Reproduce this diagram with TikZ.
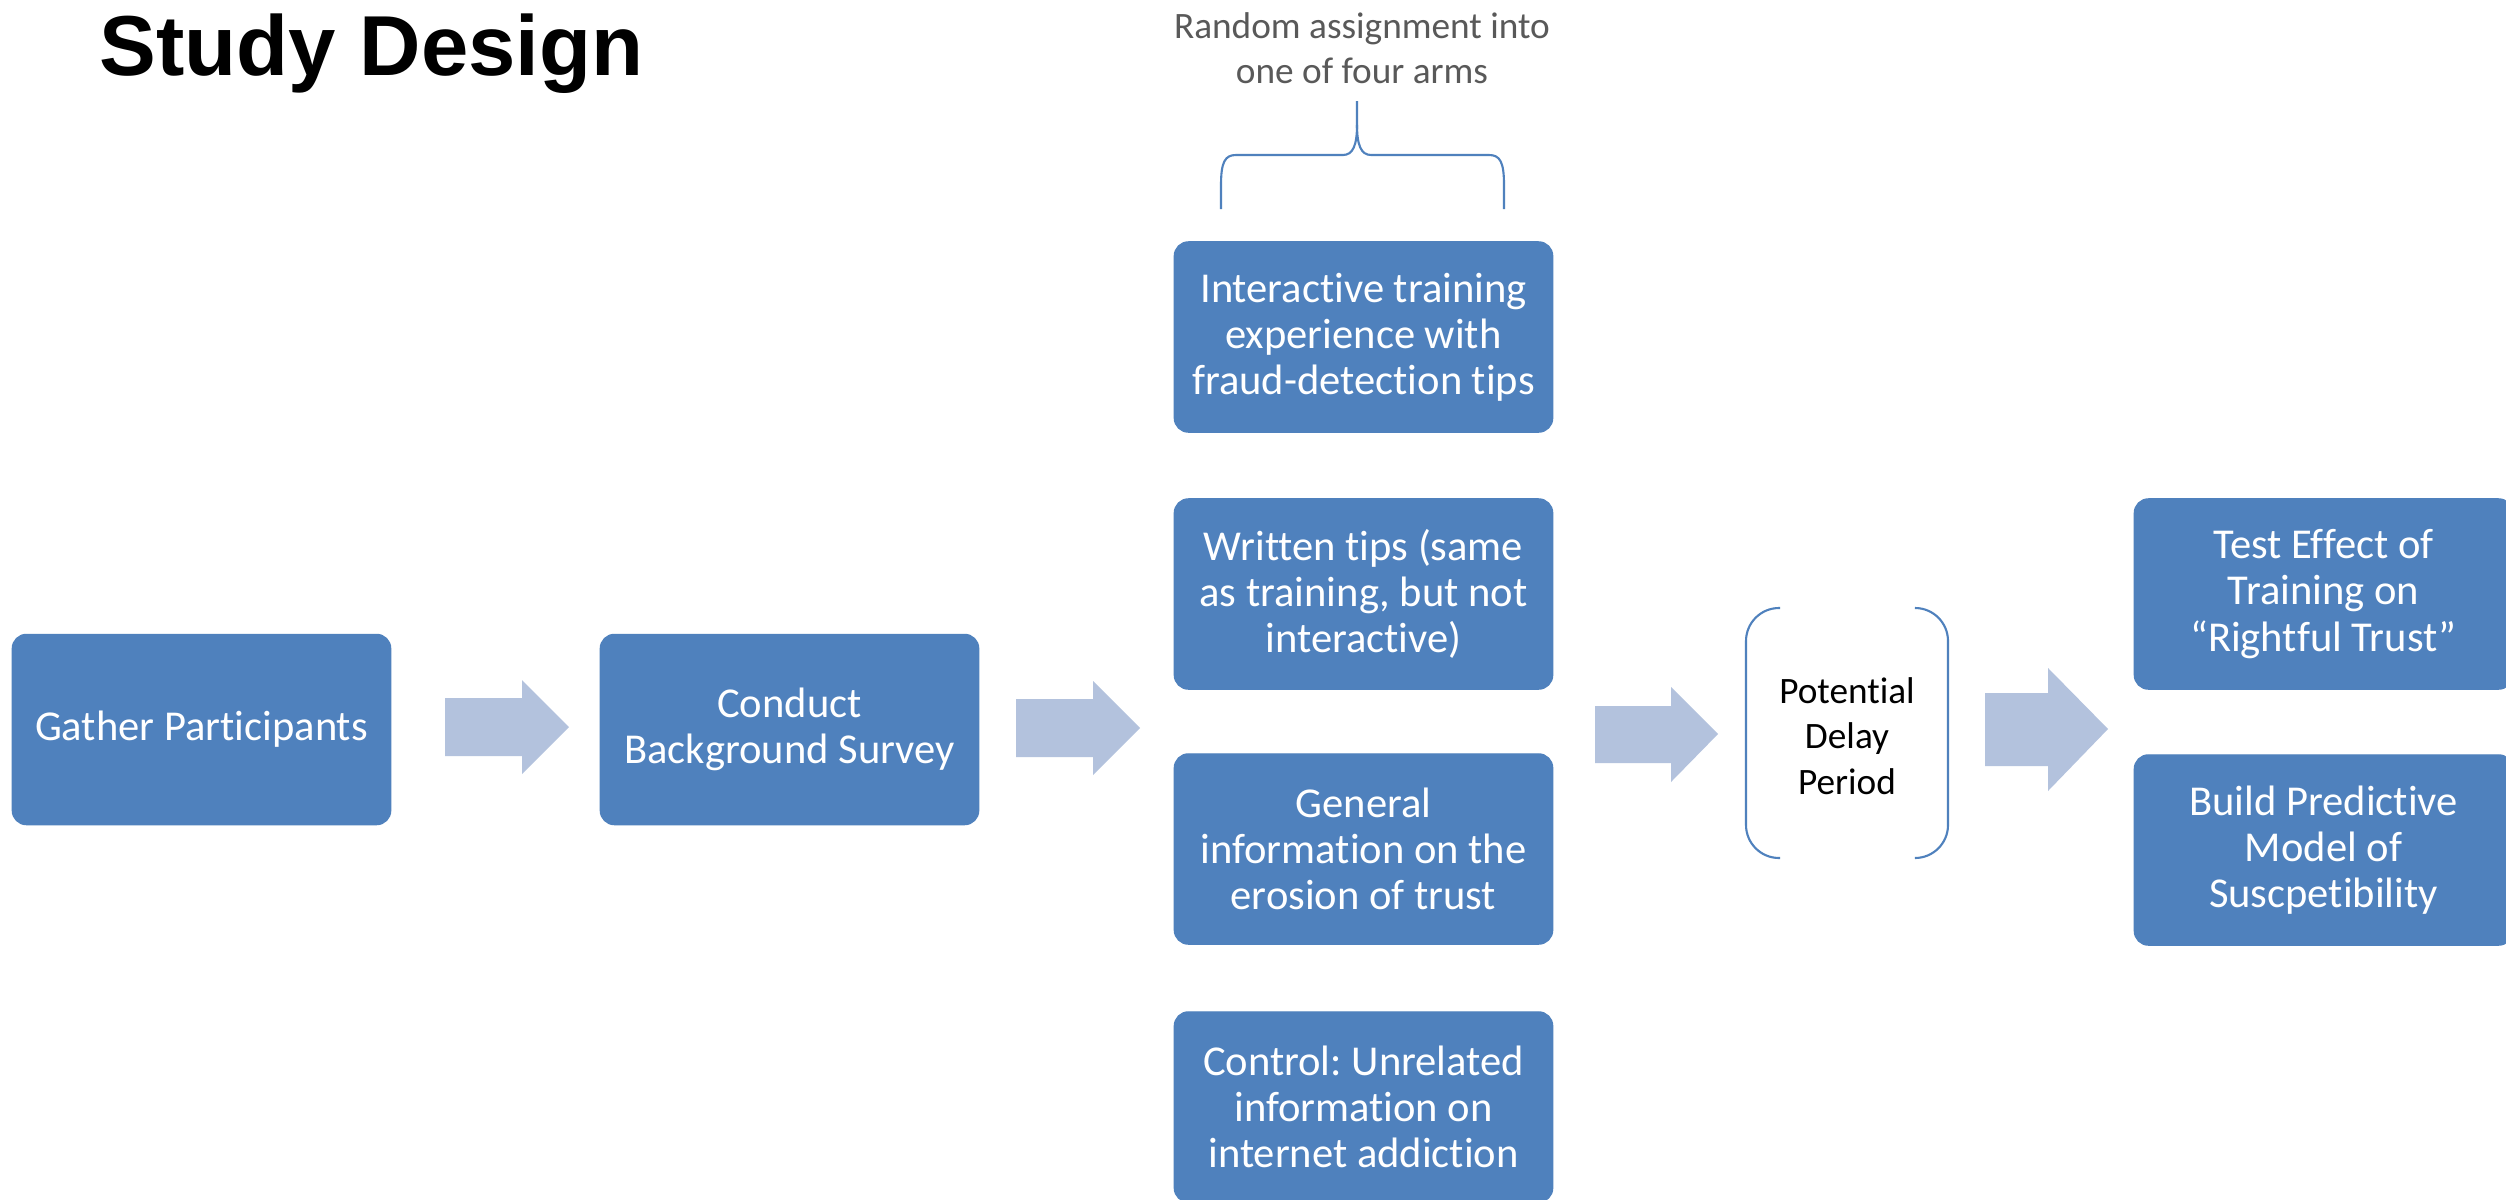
\documentclass[tikz,border=0pt]{standalone}
\usepackage{fontspec}
\setmainfont{Carlito}[Ligatures=NoCommon]
\newfontfamily\titlefont{Liberation Sans}
\frenchspacing
\definecolor{boxblue}{HTML}{4F81BD}
\definecolor{arrowblue}{HTML}{B3C2DD}
\definecolor{graytext}{HTML}{595959}
\tikzset{
  box/.style={draw=boxblue, fill=boxblue, rounded corners=0.14cm, minimum width=3.78cm,
    minimum height=1.9cm, text=white, align=center, inner sep=0pt,
    font=\fontsize{12.1}{13.1}\selectfont},
  blockarrow/.style={fill=arrowblue, draw=none},
  bracketline/.style={draw=boxblue, line width=0.6pt},
  note/.style={align=center, inner sep=0pt}
}
\begin{document}
\begin{tikzpicture}[x=0.01cm, y=-0.01cm]
\useasboundingbox (0,0) rectangle (2506,1200);
\fill[white] (0,0) rectangle (2506,1200);

% title
\node[anchor=base west, inner sep=0pt, font=\titlefont\bfseries\fontsize{24.2}{28}\selectfont] (title) at (99,75) {Study Design};

% main boxes
\node[box] (gather) at (201.5,729.5) {\raisebox{-1pt}{Gather Participants}};
\node[box] (conduct) at (789.5,729.5) {\raisebox{-1pt}{Conduct}\\\raisebox{-1pt}{Background Survey}};

\node[box] (arm1) at (1363.5,337) {Interactive training\\experience with\\fraud-detection tips};
\node[box] (arm2) at (1363.5,594) {Written tips (same\\as training, but not\\interactive)};
\node[box] (arm3) at (1363.5,849) {General\\information on the\\erosion of trust};
\node[box] (arm4) at (1363.5,1107) {Control: Unrelated\\information on\\internet addiction};

\node[box] (test) at (2323.5,594) {Test Effect of\\Training on\\“Rightful Trust”};
\node[box] (build) at (2323.5,850) {Build Predictive\\Model of\\Suscpetibility};

% random assignment label and brace
\node[note, text=graytext, font=\fontsize{10.6}{12.8}\selectfont] (random) at (1362,48) {Random assignment into\\one of four arms};
\coordinate (bracetip) at (1357,101);
\draw[bracketline] (1221,209) -- (1221,185) .. controls (1221,162) and (1225,155) .. (1236,155)
  -- (1343,155) .. controls (1353,155) and (1357,145) .. (1357,125) -- (bracetip);
\draw[bracketline] (1357,125) .. controls (1357,145) and (1361,155) .. (1371,155)
  -- (1489,155) .. controls (1500,155) and (1504,162) .. (1504,185) -- (1504,209);

% delay period
\node[note, text=black, font=\fontsize{10.6}{12.95}\selectfont] (delay) at (1847,736) {Potential\\Delay\\Period};
\draw[bracketline, rounded corners=0.33cm] (1780,608) -- (1746,608) -- (1746,858) -- (1780,858);
\draw[bracketline, rounded corners=0.33cm] (1915,608) -- (1948,608) -- (1948,858) -- (1915,858);

% block arrows
\fill[blockarrow] (445,698) -- (522,698) -- (522,680) -- (569,727) -- (522,774) -- (522,756) -- (445,756) -- cycle;
\fill[blockarrow] (1016,699) -- (1093,699) -- (1093,681) -- (1140,728) -- (1093,775) -- (1093,757) -- (1016,757) -- cycle;
\fill[blockarrow] (1595,706) -- (1671,706) -- (1671,687) -- (1718,734) -- (1671,782) -- (1671,763) -- (1595,763) -- cycle;
\fill[blockarrow] (1985,693) -- (2048,693) -- (2048,668) -- (2108,729) -- (2048,791) -- (2048,766) -- (1985,766) -- cycle;
\end{tikzpicture}
\end{document}
